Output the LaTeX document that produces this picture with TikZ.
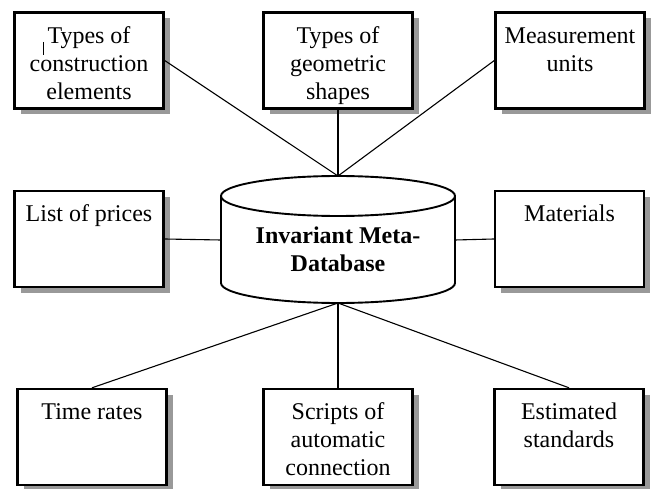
\documentclass[tikz,border=0pt]{standalone}
\usepackage{fontspec}
\setmainfont{Liberation Serif}
\usetikzlibrary{shadows}
\tikzset{
  box/.style={draw, line width=2.4pt, fill=white, minimum width=149pt, minimum height=96pt, inner sep=0pt,
    drop shadow={shadow xshift=6pt, shadow yshift=-6pt, fill=black!40, opacity=1}},
  conn/.style={line width=1.1pt},
  dbline/.style={line width=1.9pt},
}
\newcommand{\boxtext}[1]{\parbox[c][96pt][t]{148pt}{\centering\vspace*{11.2pt}#1}}
\begin{document}
\begin{tikzpicture}[x=1pt, y=-1pt, font=\fontsize{24}{28}\selectfont]
\useasboundingbox (0,0) rectangle (653,489);
% database reference points
\coordinate (dbtop) at (338,176);
\coordinate (dbbot) at (338,303);
\coordinate (dbleft) at (221,240);
\coordinate (dbright) at (455,240);
% boxes
\node[box] (b1) at (89,60.5) {\boxtext{\strut Types of\\construction\\elements}};
\node[box] (b2) at (338,60.5) {\boxtext{\strut Types of\\geometric\\shapes}};
\node[box] (b3) at (570,60.5) {\boxtext{\strut Measurement\\units}};
\node[box] (b4) at (89,239) {\boxtext{\strut List of prices}};
\node[box] (b5) at (569.5,239) {\boxtext{\strut Materials}};
\node[box] (b6) at (92,437) {\boxtext{\strut Time rates}};
\node[box] (b7) at (338,437) {\boxtext{\strut Scripts of\\automatic\\connection}};
\node[box] (b8) at (569,437) {\boxtext{\strut Estimated\\standards}};
% connectors
\draw[conn] (b1.east) -- (dbtop);
\draw[conn] (b2.south) -- (dbtop);
\draw[conn] (b3.west) -- (dbtop);
\draw[conn] (b4.east) -- (dbleft);
\draw[conn] (b5.west) -- (dbright);
\draw[conn] (b6.north) -- (dbbot);
\draw[conn] (b7.north) -- (dbbot);
\draw[conn] (b8.north) -- (dbbot);
% cylinder
\draw[dbline, fill=white] (221,196) -- (221,283) arc[start angle=180, end angle=360, x radius=117pt, y radius=20pt] -- (455,196);
\draw[dbline, fill=white] (338,196) ellipse [x radius=117pt, y radius=20pt];
\node[font=\fontsize{24}{28}\selectfont\bfseries, align=center, inner sep=0pt] (db) at (338,249) {Invariant Meta-\\Database};
% stray cursor mark
\draw[line width=0.8pt] (43,42) -- (43,55);
\end{tikzpicture}
\end{document}
